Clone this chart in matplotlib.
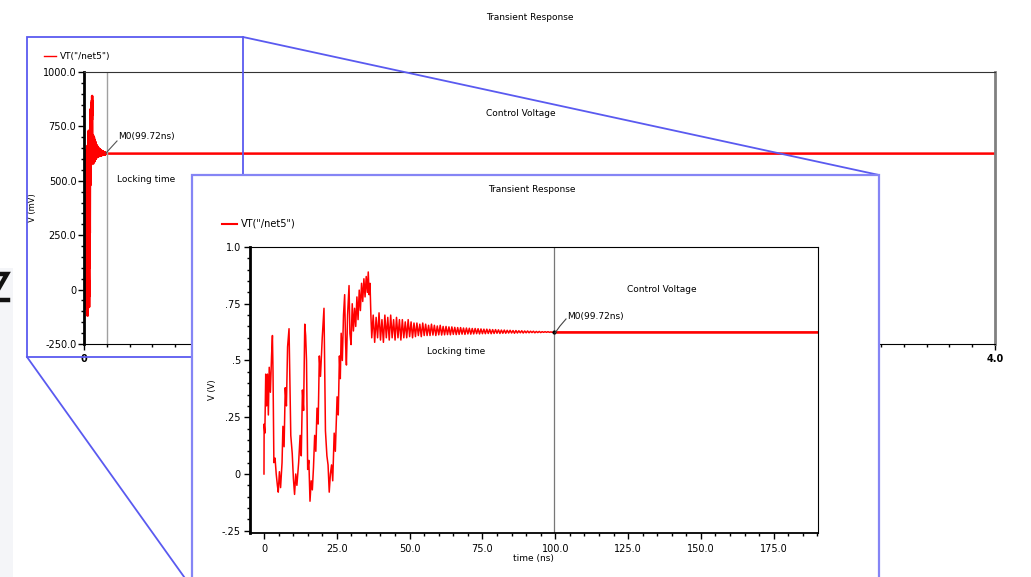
import numpy as np
import matplotlib.pyplot as plt
from matplotlib.patches import Rectangle
from matplotlib.lines import Line2D
from matplotlib.ticker import MultipleLocator

W, H = 1031, 577

# VT("/net5"), time in ns, value in V
early_t = [0.0, 0.05, 0.3, 0.6, 0.9, 1.2, 1.5, 1.8, 2.2, 2.6, 2.9, 3.1, 3.4, 3.8, 4.2, 4.6, 4.9,
           5.3, 5.7, 6.2, 6.5, 6.9, 7.3, 7.7, 8.1, 8.6, 8.9, 9.2, 9.7, 10.1, 10.5, 10.9, 11.3,
           11.9, 12.4, 12.8, 13.2, 13.6, 14.0, 14.3, 14.6, 15.0, 15.4, 15.8, 16.2, 16.6, 17.0,
           17.4, 17.8, 18.2, 18.6, 19.0, 19.4, 20.0, 20.6, 20.9, 21.1, 21.6, 22.0, 22.4, 22.8,
           23.2, 23.6, 24.1, 24.5, 25.1, 25.5, 25.9, 26.2, 26.5, 26.9, 27.3, 27.7, 28.0, 28.3,
           28.7, 29.2, 29.5, 29.9, 30.3, 30.7, 31.1, 31.5, 31.9, 32.3, 32.7, 33.1, 33.5, 33.9,
           34.3, 34.7, 35.1, 35.5, 35.8, 36.1, 36.4, 36.7]
early_v = [0.0, 0.22, 0.18, 0.44, 0.30, 0.44, 0.26, 0.47, 0.36, 0.52, 0.61, 0.45, 0.05, 0.07, 0.00, -0.05, -0.08,
           0.01, -0.06, 0.05, 0.21, 0.12, 0.38, 0.30, 0.56, 0.64, 0.40, 0.17, 0.09, -0.02, -0.09, 0.00, -0.05,
           0.05, 0.17, 0.08, 0.37, 0.28, 0.66, 0.61, 0.50, 0.02, 0.06, -0.12, -0.03, -0.07, 0.03,
           0.17, 0.10, 0.29, 0.22, 0.52, 0.43, 0.60, 0.73, 0.40, 0.19, 0.08, 0.04, -0.08, 0.00,
           0.04, -0.03, 0.18, 0.10, 0.34, 0.26, 0.52, 0.42, 0.62, 0.50, 0.70, 0.79, 0.58, 0.48,
           0.70, 0.83, 0.62, 0.57, 0.75, 0.63, 0.73, 0.65, 0.78, 0.68, 0.81, 0.72, 0.84, 0.76,
           0.86, 0.78, 0.87, 0.80, 0.89, 0.79, 0.84, 0.70]

ring_t = [37.0, 37.5, 38.0, 38.5, 39.0, 39.5, 40.0, 40.5, 41.0, 41.5,
          42.0, 42.5, 43.0, 43.5, 44.0, 44.5, 45.0, 45.5, 46.0, 46.5,
          47.0, 47.5, 48.0, 48.5, 49.0, 49.5, 50.0, 50.5, 51.0, 51.5,
          52.0, 52.5, 53.0, 53.5, 54.0, 54.5, 55.0, 55.5, 56.0, 56.5,
          57.0, 57.5, 58.0, 58.5, 59.0, 59.5, 60.0, 60.5, 61.0, 61.5,
          62.0, 62.5, 63.0, 63.5, 64.0, 64.5, 65.0, 65.5, 66.0, 66.5,
          67.0, 67.5, 68.0, 68.5, 69.0, 69.5, 70.0, 70.5, 71.0, 71.5,
          72.0, 72.5, 73.0, 73.5, 74.0, 74.5, 75.0, 75.5, 76.0, 76.5,
          77.0, 77.5, 78.0, 78.5, 79.0, 79.5, 80.0, 80.5, 81.0, 81.5,
          82.0, 82.5, 83.0, 83.5, 84.0, 84.5, 85.0, 85.5, 86.0, 86.5,
          87.0, 87.5, 88.0, 88.5, 89.0, 89.5, 90.0, 90.5, 91.0, 91.5,
          92.0, 92.5, 93.0, 93.5, 94.0, 94.5, 95.0, 95.5, 96.0, 96.5,
          97.0, 97.5, 98.0, 98.5, 99.0, 99.5, 100.0]
ring_v = [0.60, 0.70, 0.58, 0.69, 0.60, 0.71, 0.59, 0.68, 0.58, 0.70,
          0.60, 0.69, 0.59, 0.70, 0.60, 0.68, 0.59, 0.69, 0.60, 0.68,
          0.59, 0.68, 0.60, 0.67, 0.60, 0.68, 0.605, 0.67, 0.60, 0.665,
          0.605, 0.665, 0.61, 0.66, 0.605, 0.665, 0.61, 0.66, 0.61, 0.655,
          0.61, 0.66, 0.612, 0.655, 0.61, 0.652, 0.613, 0.655, 0.612, 0.65,
          0.613, 0.65, 0.614, 0.648, 0.613, 0.648, 0.615, 0.646, 0.614, 0.645,
          0.615, 0.645, 0.616, 0.643, 0.615, 0.643, 0.617, 0.642, 0.616, 0.641,
          0.617, 0.641, 0.618, 0.64, 0.617, 0.639, 0.618, 0.638, 0.618, 0.638,
          0.619, 0.637, 0.618, 0.636, 0.619, 0.636, 0.62, 0.635, 0.619, 0.634,
          0.62, 0.634, 0.62, 0.633, 0.621, 0.633, 0.621, 0.632, 0.62, 0.632,
          0.621, 0.631, 0.622, 0.631, 0.621, 0.63, 0.622, 0.63, 0.622, 0.629,
          0.623, 0.629, 0.622, 0.628, 0.623, 0.628, 0.623, 0.627, 0.624, 0.627,
          0.624, 0.627, 0.624, 0.626, 0.624, 0.626, 0.625]

tail_t = [100.5, 4000]
tail_v = [0.625, 0.625]

marker_ns = 99.72

t_ns = np.array(early_t + ring_t + tail_t, dtype=float)
v_V = np.array(early_v + ring_v + tail_v, dtype=float)

outer_yticks = [-250, 0, 250, 500, 750, 1000]
outer_ylabels = ['-250.0', '0', '250.0', '500.0', '750.0', '1000.0']
outer_xticks = [0, 1, 2, 3, 4]
outer_xlabels = ['0', '1.0', '2.0', '3.0', '4.0']
inner_yticks = [-0.25, 0, 0.25, 0.5, 0.75, 1.0]
inner_ylabels = ['-.25', '0', '.25', '.5', '.75', '1.0']
inner_xticks = [0, 25, 50, 75, 100, 125, 150, 175]
inner_xlabels = ['0', '25.0', '50.0', '75.0', '100.0', '125.0', '150.0', '175.0']

RED = '#ff0000'
BLUE = '#5a5af0'
PANEL = '#8585f5'
FS = 7


def box(x0, y0, x1, y1):
    return [x0 / W, 1 - y1 / H, (x1 - x0) / W, (y1 - y0) / H]


fig = plt.figure(figsize=(W / 100, H / 100), dpi=100)
fig.patch.set_facecolor('white')

# ---- outer (full run) plot
ax = fig.add_axes(box(84, 72, 995, 344), zorder=1)
ax.plot(t_ns / 1000, v_V * 1000, color=RED, lw=1.8)
ax.axvline(marker_ns / 1000, color='#a0a0a0', lw=1)
ax.set_xlim(0, 4.0)
ax.set_ylim(-250, 1000)
ax.set_yticks(outer_yticks)
ax.set_yticklabels(outer_ylabels)
ax.set_xticks(outer_xticks)
ax.set_xticklabels(outer_xlabels)
ax.yaxis.set_minor_locator(MultipleLocator(50))
ax.xaxis.set_minor_locator(MultipleLocator(0.1))
ax.tick_params(which='major', direction='out', length=4, width=1, labelsize=FS, pad=1.5)
ax.tick_params(axis='x', which='major', pad=3)
ax.tick_params(which='minor', direction='out', length=2.5, width=1)
ax.spines['left'].set_linewidth(2)
ax.spines['top'].set_color('#333333')
ax.spines['right'].set_color('#808080')
ax.spines['right'].set_linewidth(2)
ax.set_ylabel('V (mV)', fontsize=6, labelpad=4)
for lbl in ax.get_xticklabels():
    lbl.set_fontweight('bold')

# ---- overlay in pixel coords: zoom box, connectors, inner panel, captions
ov = fig.add_axes([0, 0, 1, 1], zorder=2)
ov.set_xlim(0, W)
ov.set_ylim(H, 0)
ov.axis('off')
ov.patch.set_alpha(0)

# bit of the slide behind the screenshot
ov.add_patch(Rectangle((0, 268), 13, H - 268, facecolor='#f4f5f8', edgecolor='none', zorder=0))
ov.add_line(Line2D([-12, 7, -8, 8], [274, 274, 300, 300], color='#111111', lw=3.2,
                   solid_joinstyle='miter', zorder=1))

ov.text(530, 18, 'Transient Response', fontsize=FS - 0.5, ha='center', va='center')
ov.add_line(Line2D([44, 56], [56, 56], color=RED, lw=1))
ov.text(60, 56, 'VT("/net5")', fontsize=FS - 0.5, va='center')
ov.text(118, 137, 'M0(99.72ns)', fontsize=FS - 0.5, va='center')
ov.add_line(Line2D([106, 117], [153, 141], color='#555555', lw=0.8))
ov.text(117, 180, 'Locking time', fontsize=FS - 0.5, va='center')
ov.text(521, 114, 'Control Voltage', fontsize=FS - 0.5, va='center', ha='center')

ov.add_patch(Rectangle((27, 37), 243 - 27, 357 - 37, facecolor='none', edgecolor=BLUE, lw=1.3, zorder=2))
ov.add_line(Line2D([243, 879], [37, 175], color=BLUE, lw=1.3, zorder=2))
ov.add_line(Line2D([27, 192], [357, 588], color=BLUE, lw=1.3, zorder=2))
ov.add_patch(Rectangle((192, 175), 879 - 192, H - 175 + 20, facecolor='white',
                       edgecolor=PANEL, lw=1.6, zorder=3))

ov.text(532, 190, 'Transient Response', fontsize=FS - 0.5, ha='center', va='center', zorder=4)
ov.add_line(Line2D([222, 237], [224, 224], color=RED, lw=1.5, zorder=4))
ov.text(241, 224, 'VT("/net5")', fontsize=FS, va='center', zorder=4)

# ---- inner (zoomed) plot
ax2 = fig.add_axes(box(250, 247, 818, 533), zorder=3)
ax2.patch.set_alpha(0)
ax2.plot(t_ns, v_V, color=RED, lw=1.1)
ax2.plot(tail_t, tail_v, color=RED, lw=1.8)
ax2.axvline(marker_ns, color='#777777', lw=0.9)
ax2.plot([marker_ns], [0.625], 'o', color='black', ms=2)
ax2.set_xlim(-4.8, 190.2)
ax2.set_ylim(-0.26, 1.0)
ax2.set_yticks(inner_yticks)
ax2.set_yticklabels(inner_ylabels)
ax2.set_xticks(inner_xticks)
ax2.set_xticklabels(inner_xlabels)
ax2.yaxis.set_minor_locator(MultipleLocator(0.05))
ax2.xaxis.set_minor_locator(MultipleLocator(5))
ax2.tick_params(which='major', direction='out', length=4, width=1, labelsize=FS, pad=2.5)
ax2.tick_params(axis='x', which='major', pad=4)
ax2.tick_params(which='minor', direction='out', length=2.5, width=1)
ax2.spines['left'].set_linewidth(2)
ax2.spines['bottom'].set_linewidth(1.3)

ov2 = fig.add_axes([0, 0, 1, 1], zorder=4)
ov2.set_xlim(0, W)
ov2.set_ylim(H, 0)
ov2.axis('off')
ov2.patch.set_alpha(0)
ov2.text(533, 559, 'time (ns)', fontsize=FS - 0.5, ha='center', va='center')
ov2.text(213, 390, 'V (V)', fontsize=FS - 1, ha='center', va='center', rotation=90)
ov2.text(567, 317, 'M0(99.72ns)', fontsize=FS - 0.5, va='center')
ov2.add_line(Line2D([555, 560, 566], [333, 326, 319], color='#444444', lw=0.8))
ov2.text(456, 352, 'Locking time', fontsize=FS - 0.5, ha='center', va='center')
ov2.text(662, 289, 'Control Voltage', fontsize=FS - 0.5, ha='center', va='center')

fig.savefig('out.png', dpi=100)
